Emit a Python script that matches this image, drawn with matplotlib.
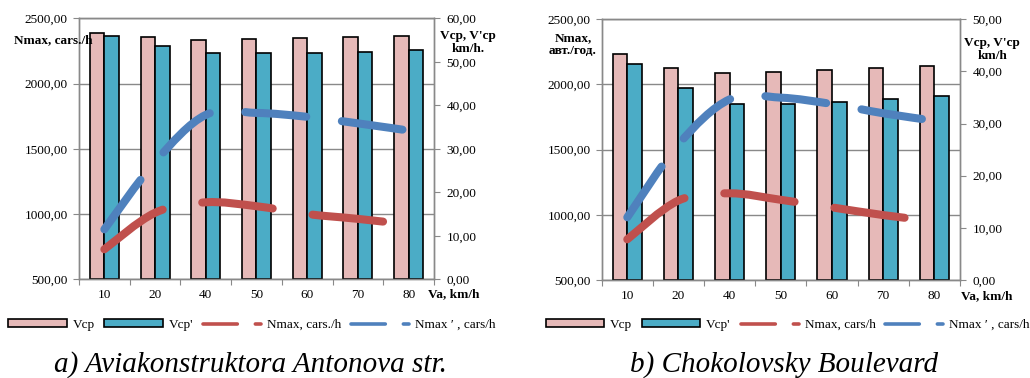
import matplotlib
matplotlib.use("Agg")
import matplotlib.pyplot as plt
import matplotlib.patches as mpatches
from matplotlib.lines import Line2D
from matplotlib.path import Path
from matplotlib.ticker import FixedLocator, FuncFormatter
import numpy as np

plt.rcParams['font.family'] = ['Liberation Serif', 'DejaVu Serif']

## Data
categories = ['10', '20', '40', '50', '60', '70', '80']

# a) Aviakonstruktora Antonova str.
vcp_a = [56.7, 55.6, 55.0, 55.2, 55.4, 55.6, 55.9]
vcp2_a = [56.0, 53.7, 52.1, 52.0, 52.1, 52.3, 52.6]
nmax_a = [730, 1010, 1090, 1060, 1000, 963, 920]
nmax2_a = [883, 1400, 1760, 1775, 1745, 1695, 1640]

# b) Chokolovsky Boulevard
vcp_b = [43.3, 40.7, 39.7, 39.9, 40.2, 40.6, 41.0]
vcp2_b = [41.5, 36.8, 33.8, 33.7, 34.1, 34.7, 35.2]
nmax_b = [812, 1110, 1165, 1115, 1057, 998, 950]
nmax2_b = [981, 1540, 1886, 1899, 1850, 1779, 1722]

PINK = '#E6B9B8'
TEAL = '#4BACC6'
RED = '#C0504D'
BLUE = '#4F81BD'
GRAY = '#898989'
FS = 9.5


def comma(v, pos=None):
    return f"{v:.2f}".replace('.', ',')


def smooth_path(xs, ys):
    # Excel-like smoothed line: bezier through the data points
    pts = np.column_stack([xs, ys]).astype(float)
    n = len(pts)
    verts = [pts[0]]
    codes = [Path.MOVETO]
    for i in range(n - 1):
        p0 = pts[max(i - 1, 0)]
        p1 = pts[i]
        p2 = pts[i + 1]
        p3 = pts[min(i + 2, n - 1)]
        verts += [p1 + (p2 - p0) / 6, p2 - (p3 - p1) / 6, p2]
        codes += [Path.CURVE4] * 3
    return Path(verts, codes)


def draw_chart(fig, rect, vcp, vcp2, nmax, nmax2, vmax):
    x = np.arange(len(categories))
    ax = fig.add_axes(rect)
    ax.set_xlim(-0.5, len(categories) - 0.5)
    ax.set_ylim(500, 2500)
    ax.yaxis.set_major_locator(FixedLocator([500, 1000, 1500, 2000, 2500]))
    ax.yaxis.set_major_formatter(FuncFormatter(comma))
    ax.grid(axis='y', color=GRAY, lw=1.0)
    ax.set_axisbelow(True)
    ax.xaxis.set_major_locator(FixedLocator(np.arange(-0.5, len(categories), 1.0)))
    ax.xaxis.set_major_formatter(FuncFormatter(lambda v, p: ''))
    ax.xaxis.set_minor_locator(FixedLocator(x))
    ax.set_xticklabels(categories, minor=True)
    ax.tick_params(axis='x', which='major', length=4, color=GRAY, direction='out')
    ax.tick_params(axis='x', which='minor', length=0, pad=7, labelsize=FS)
    ax.tick_params(axis='y', length=4, color=GRAY, pad=4, labelsize=FS)
    for s in ax.spines.values():
        s.set_color(GRAY)
        s.set_linewidth(1.0)

    # bars on the speed axis
    ax2 = ax.twinx()
    w = 0.285
    ax2.bar(x - w / 2, vcp, w, color=PINK, edgecolor='black', lw=1.2)
    ax2.bar(x + w / 2, vcp2, w, color=TEAL, edgecolor='black', lw=1.2)
    ax2.set_ylim(0, vmax)
    ax2.yaxis.set_major_locator(FixedLocator(np.arange(0, vmax + 1, 10)))
    ax2.yaxis.set_major_formatter(FuncFormatter(comma))
    ax2.tick_params(axis='y', length=4, color=GRAY, pad=5, labelsize=FS)
    for s in ax2.spines.values():
        s.set_color(GRAY)
        s.set_linewidth(1.0)

    # smoothed long-dash lines for Nmax on the left scale
    ax3 = ax.twinx()
    ax3.set_ylim(500, 2500)
    ax3.set_yticks([])
    for s in ax3.spines.values():
        s.set_visible(False)
    for vals, col, dash in [(nmax, RED, (8.8, 5.0)), (nmax2, BLUE, (7.6, 4.45))]:
        pp = mpatches.PathPatch(smooth_path(x, vals), fill=False, edgecolor=col,
                                lw=5.8, linestyle=(0, dash), capstyle='round')
        ax3.add_patch(pp)
    return ax


def add_legend(fig, cx, cy, nlabel):
    handles = [
        mpatches.Patch(facecolor=PINK, edgecolor='black', lw=1.2),
        mpatches.Patch(facecolor=TEAL, edgecolor='black', lw=1.2),
        Line2D([], [], color=RED, lw=2.6, linestyle=(0, (9.5, 5)), dash_capstyle='round'),
        Line2D([], [], color=BLUE, lw=2.6, linestyle=(0, (9.5, 5)), dash_capstyle='round'),
    ]
    labels = ['Vcp', "Vcp'", nlabel, 'Nmax \u2032 , cars/h']
    fig.legend(handles, labels, loc='center', bbox_to_anchor=(cx, cy), ncol=4,
               frameon=False, fontsize=FS, handlelength=4.4, handleheight=0.55,
               handletextpad=0.45, columnspacing=0.75, borderaxespad=0)


W, H = 1030, 378
fig = plt.figure(figsize=(W / 100, H / 100), dpi=100)

draw_chart(fig, [79 / W, 1 - 279.3 / H, 355 / W, 261 / H], vcp_a, vcp2_a, nmax_a, nmax2_a, 60)
draw_chart(fig, [601.7 / W, 1 - 280 / H, 358.3 / W, 260.7 / H], vcp_b, vcp2_b, nmax_b, nmax2_b, 50)

bold = dict(fontsize=FS, fontweight='bold', ha='center', va='center', linespacing=1.15)
fig.text(53.5 / W, 1 - 40 / H, 'Nmax, cars./h', **bold)
fig.text(468 / W, 1 - 42.5 / H, "Vcp, V'cp\nkm/h.", **bold)
fig.text(454 / W, 1 - 294 / H, 'Va, km/h', **bold)
fig.text(573 / W, 1 - 44.5 / H, 'Nmax,\nавт./год.', **bold)
fig.text(992 / W, 1 - 49.5 / H, "Vcp, V'cp\nkm/h", **bold)
fig.text(987 / W, 1 - 296 / H, 'Va, km/h', **bold)

add_legend(fig, 252 / W, 1 - 325 / H, 'Nmax, cars./h')
add_legend(fig, 788 / W, 1 - 325 / H, 'Nmax, cars/h')

fig.text(250 / W, 1 - 365 / H, 'a) Aviakonstruktora Antonova str.', fontsize=21,
         style='italic', ha='center', va='center')
fig.text(784 / W, 1 - 365 / H, 'b) Chokolovsky Boulevard', fontsize=21,
         style='italic', ha='center', va='center')

fig.savefig('out.png', dpi=100)
